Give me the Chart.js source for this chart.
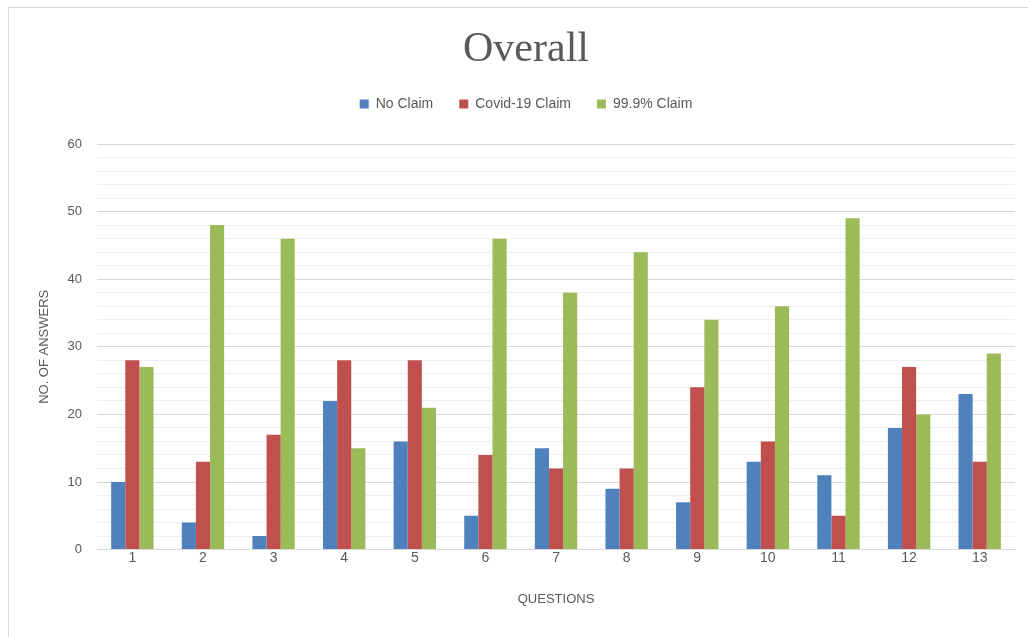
<!DOCTYPE html>
<html>
<head>
<meta charset="utf-8">
<script src="https://cdn.jsdelivr.net/npm/chart.js@4.4.0/dist/chart.umd.min.js"></script>
<style>
  html, body { margin: 0; padding: 0; background: #fff; }
  #marco {
    position: absolute; left: 8px; top: 7px; width: 1030px; height: 640px;
    border-left: 1px solid #d9d9d9; border-top: 1px solid #d9d9d9;
  }
  #lienzo { position: absolute; left: 0; top: 0; }
</style>
</head>
<body>
<div id="marco"></div>
<canvas id="lienzo" width="1028" height="637"></canvas>
<script>
// Datos
const preguntas = ["1", "2", "3", "4", "5", "6", "7", "8", "9", "10", "11", "12", "13"];
const sinClaim   = [10, 4, 2, 22, 16, 5, 15, 9, 7, 13, 11, 18, 23];
const covidClaim = [28, 13, 17, 28, 28, 14, 12, 12, 24, 16, 5, 27, 13];
const claim999   = [27, 48, 46, 15, 21, 46, 38, 44, 34, 36, 49, 20, 29];
const nombresSeries = ["No Claim", "Covid-19 Claim", "99.9% Claim"];

const gris = "#595959";

// espacio extra debajo de la leyenda
const espacioLeyenda = {
    id: "espacioLeyenda",
    beforeInit(chart) {
        const fitOriginal = chart.legend.fit;
        chart.legend.fit = function () {
            fitOriginal.bind(chart.legend)();
            this.height += 23;
        };
    }
};

const ctx = document.getElementById("lienzo").getContext("2d");

new Chart(ctx, {
    type: "bar",
    data: {
        labels: preguntas,
        datasets: [
            { label: nombresSeries[0], data: sinClaim,   backgroundColor: "#4F81BD" },
            { label: nombresSeries[1], data: covidClaim, backgroundColor: "#C0504D" },
            { label: nombresSeries[2], data: claim999,   backgroundColor: "#9BBB59" }
        ]
    },
    plugins: [espacioLeyenda],
    options: {
        responsive: false,
        animation: false,
        layout: { padding: { left: 37, right: 13, top: 29, bottom: 26 } },
        datasets: { bar: { barPercentage: 1, categoryPercentage: 0.6 } },
        plugins: {
            title: {
                display: true,
                text: "Overall",
                color: gris,
                font: { family: "Liberation Serif", size: 42, weight: "normal", lineHeight: 1 },
                padding: { top: 0, bottom: 0 }
            },
            legend: {
                position: "top",
                labels: {
                    color: gris,
                    boxWidth: 9,
                    boxHeight: 9,
                    padding: 26,
                    font: { family: "Liberation Sans", size: 14 }
                }
            },
            tooltip: { enabled: false }
        },
        scales: {
            x: {
                grid: { display: false, drawTicks: false },
                border: { color: "#d9d9d9" },
                ticks: { color: gris, font: { family: "Liberation Sans", size: 14 }, padding: 0 },
                title: {
                    display: true,
                    text: "QUESTIONS",
                    color: gris,
                    font: { family: "Liberation Sans", size: 13 },
                    padding: { top: 25 }
                }
            },
            y: {
                min: 0,
                max: 60,
                border: { display: false },
                grid: {
                    drawTicks: false,
                    color: c => (c.tick && c.tick.value % 10 === 0) ? "#d9d9d9" : "#eeeeee",
                    lineWidth: 1
                },
                ticks: {
                    stepSize: 2,
                    autoSkip: false,
                    color: gris,
                    padding: 15,
                    font: { family: "Liberation Sans", size: 13 },
                    callback: v => (v % 10 === 0 ? v : "")
                },
                title: {
                    display: true,
                    text: "NO. OF ANSWERS",
                    color: gris,
                    font: { family: "Liberation Sans", size: 13 },
                    padding: { top: 0, bottom: 0 }
                }
            }
        }
    }
});
</script>
</body>
</html>
